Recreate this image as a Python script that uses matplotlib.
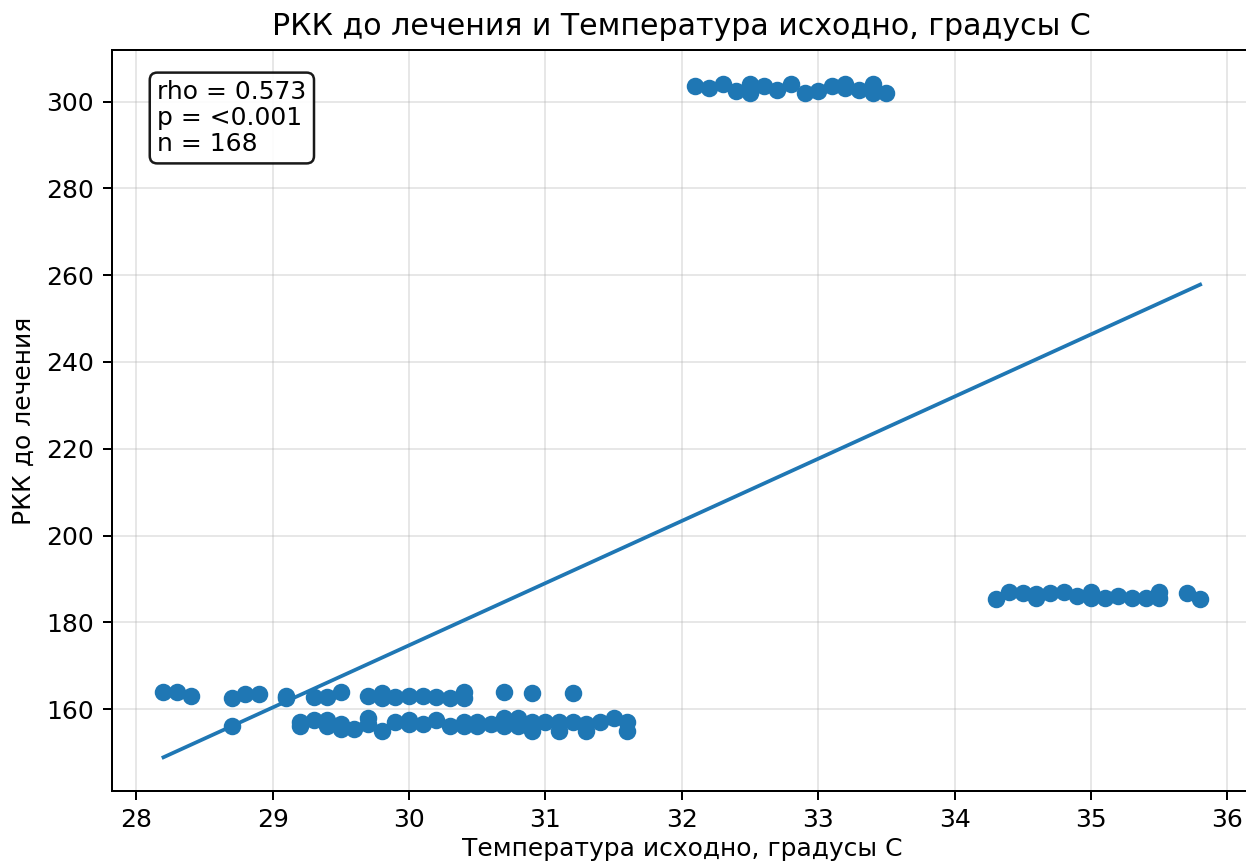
import numpy as np
import matplotlib
matplotlib.use("Agg")
import matplotlib.pyplot as plt

# Lower cluster, upper row (~163)
x_low_a = [28.2, 28.3, 28.4, 28.7, 28.8, 28.9, 29.1, 29.1, 29.3, 29.4, 29.5, 29.7, 29.8, 29.8,
           29.9, 30.0, 30.1, 30.2, 30.3, 30.4, 30.4, 30.7, 30.9, 31.2]
y_low_a = [164.0, 164.0, 163.0, 162.5, 163.5, 163.5, 163.0, 162.5, 162.7, 162.7, 164.0, 163.0, 163.7, 162.5,
           162.7, 163.0, 163.0, 162.7, 162.5, 164.0, 162.5, 164.0, 163.7, 163.7]
# Lower cluster, lower row (~156)
x_low_b = [28.7, 29.2, 29.2, 29.3, 29.4, 29.4, 29.5, 29.5, 29.6, 29.7, 29.7, 29.8, 29.9, 30.0, 30.0,
           30.1, 30.2, 30.3, 30.4, 30.4, 30.5, 30.5, 30.6, 30.7, 30.7, 30.8, 30.8, 30.9, 30.9,
           31.0, 31.1, 31.1, 31.2, 31.3, 31.3, 31.4, 31.5, 31.6, 31.6]
y_low_b = [156.0, 156.0, 157.0, 157.5, 157.5, 156.0, 156.5, 155.5, 155.5, 156.5, 158.0, 155.0, 157.0, 157.5, 156.5,
           156.5, 157.5, 156.0, 157.0, 156.0, 157.0, 156.0, 156.5, 158.0, 156.0, 158.0, 156.0, 157.0, 155.0,
           157.0, 157.0, 155.0, 157.0, 155.0, 156.5, 157.0, 158.0, 157.0, 155.0]
# Upper cluster (~303)
x_up = [32.1, 32.2, 32.3, 32.4, 32.5, 32.5, 32.5, 32.6, 32.7, 32.8, 32.9, 33.0, 33.1, 33.2, 33.2,
        33.3, 33.4, 33.4, 33.5]
y_up = [303.5, 303.0, 304.0, 302.5, 304.0, 302.0, 303.0, 303.5, 302.7, 304.0, 302.0, 302.5, 303.5, 304.0, 303.0,
        302.7, 304.0, 302.0, 302.0]
# Right cluster (~186)
x_right = [34.3, 34.4, 34.5, 34.6, 34.6, 34.7, 34.8, 34.9, 35.0, 35.0, 35.1, 35.2, 35.3, 35.4, 35.5, 35.5,
           35.7, 35.8]
y_right = [185.3, 187.0, 186.7, 186.5, 185.5, 186.7, 187.0, 186.0, 187.0, 185.7, 185.7, 186.0, 185.7, 185.5, 187.0, 185.5,
           186.7, 185.3]

# Fitted regression line coefficients (slope, intercept)
fit_coef = [14.33, -255.2]

title = "РКК до лечения и Температура исходно, градусы С"
xlabel = "Температура исходно, градусы С"
ylabel = "РКК до лечения"
stats_text = "rho = 0.573\np = <0.001\nn = 168"

x = np.array(x_low_a + x_low_b + x_up + x_right)
y = np.array(y_low_a + y_low_b + y_up + y_right)

DPI = 180
fig = plt.figure(figsize=(1246 / DPI, 863 / DPI), dpi=DPI)
ax = fig.add_axes([0.0896, 0.0835, 0.9152, 0.858])
ax.scatter(x, y, s=36, color="#1f77b4", zorder=3)
xs = np.array([x.min(), x.max()])
ax.plot(xs, np.polyval(fit_coef, xs), color="#1f77b4", lw=1.5, zorder=2)
ax.grid(True, alpha=0.3)
ax.set_title(title, fontsize=12)
ax.set_xlabel(xlabel, fontsize=10, labelpad=2)
ax.set_ylabel(ylabel, fontsize=10)
ax.tick_params(labelsize=10)
ax.text(0.04, 0.96, stats_text, transform=ax.transAxes, va="top", ha="left", fontsize=10,
        linespacing=1.1,
        bbox=dict(boxstyle="round", facecolor="white", alpha=0.9))
fig.savefig("out.png", dpi=DPI)
